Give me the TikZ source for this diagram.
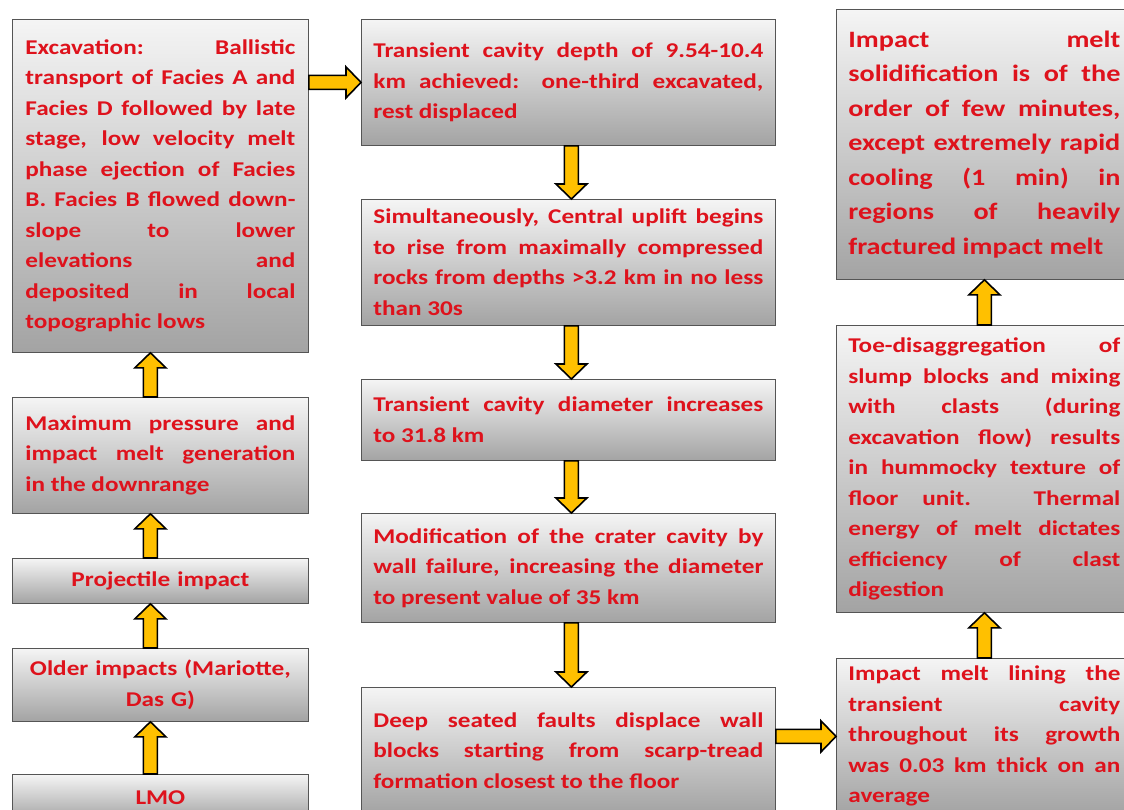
\documentclass[tikz,border=0pt]{standalone}
\usepackage{fontspec}
\setmainfont{Carlito}
\newfontfamily\normwide{Carlito}[FakeStretch=1.2]
\usetikzlibrary{calc}
\definecolor{txtred}{RGB}{222,18,28}
\definecolor{arrgold}{RGB}{255,192,0}
\definecolor{boxedge}{RGB}{85,85,85}
\tikzset{
  stage/.style={draw=boxedge,line width=0.8pt,top color=black!4,bottom color=black!36,
    anchor=north west,inner xsep=12pt,inner ysep=0pt,text=txtred,align=justify,
    font=\normwide\bfseries\fontsize{21}{30.5}\selectfont,
    execute at begin node={\tolerance=10000\hyphenpenalty=10000}},
  leftcol/.style={stage,text width=270pt,minimum width=296pt},
  midcol/.style={stage,text width=390pt,minimum width=413pt},
  rightcol/.style={stage,text width=272pt,minimum width=296pt},
  blockarrow/.style={draw=black,line width=1.6pt,fill=arrgold,line join=miter}
}
% block arrow from #1 (tail) to #2 (tip)
\newcommand\blockarr[2]{%
  \coordinate (h) at ($(#2)!15pt!(#1)$);
  \draw[blockarrow] ($(#1)!7pt!90:(#2)$) -- ($(h)!7pt!90:(#2)$) -- ($(h)!15.5pt!90:(#2)$) -- (#2)
    -- ($(h)!15.5pt!-90:(#2)$) -- ($(h)!7pt!-90:(#2)$) -- ($(#1)!7pt!-90:(#2)$) -- cycle;}
\begin{document}
\begin{tikzpicture}[x=1pt,y=-1pt]
\useasboundingbox (0,0) rectangle (1124,809);
\clip (0,0) rectangle (1124,809);
\fill[white] (0,0) rectangle (1124,809);
% left column
\node[leftcol,minimum height=333pt] (exc) at (12,19) {Excavation: Ballistic\linebreak transport of Facies A and\linebreak Facies D followed by late\linebreak stage, low velocity melt\linebreak phase ejection of Facies\linebreak B. Facies B flowed down-\linebreak slope to lower\linebreak elevations and\linebreak deposited in local\linebreak topographic lows};
\node[leftcol,minimum height=116pt] (maxp) at (12,397) {Maximum pressure and\linebreak impact melt generation\linebreak in the downrange};
\node[leftcol,minimum height=45pt,align=center] (proj) at (12,558) {Projectile impact};
\node[leftcol,minimum height=73pt,align=center] (older) at (12,648) {Older impacts (Mariotte,\\Das G)};
\node[leftcol,minimum height=46pt,align=center] (lmo) at (12,774) {LMO};
% middle column
\node[midcol,minimum height=126pt] (depth) at (361,19) {Transient cavity depth of 9.54-10.4\linebreak km achieved: one-third excavated,\linebreak rest displaced};
\node[midcol,minimum height=126pt] (uplift) at (361,199) {Simultaneously, Central uplift begins\linebreak to rise from maximally compressed\linebreak rocks from depths >3.2 km in no less\linebreak than 30s};
\node[midcol,minimum height=81pt] (diam) at (361,379) {Transient cavity diameter increases\linebreak to 31.8 km};
\node[midcol,minimum height=109pt] (modif) at (361,513) {Modification of the crater cavity by\linebreak wall failure, increasing the diameter\linebreak to present value of 35 km};
\node[midcol,minimum height=126pt] (deep) at (361,687) {Deep seated faults displace wall\linebreak blocks starting from scarp-tread\linebreak formation closest to the floor};
% right column
\node[rightcol,minimum height=270pt,font=\normwide\bfseries\fontsize{23.5}{34.5}\selectfont] (solid) at (836,9) {Impact melt\linebreak solidification is of the\linebreak order of few minutes,\linebreak except extremely rapid\linebreak cooling (1 min) in\linebreak regions of heavily\linebreak fractured impact melt};
\node[rightcol,minimum height=287pt] (toe) at (836,325) {Toe-disaggregation of\linebreak slump blocks and mixing\linebreak with clasts (during\linebreak excavation flow) results\linebreak in hummocky texture of\linebreak floor unit. Thermal\linebreak energy of melt dictates\linebreak efficiency of clast\linebreak digestion};
\node[rightcol,minimum height=156pt] (lining) at (836,658) {Impact melt lining the\linebreak transient cavity\linebreak throughout its growth\linebreak was 0.03 km thick on an\linebreak average};
% arrows
\blockarr{[xshift=-10pt]lmo.north}{[xshift=-10pt]older.south}
\blockarr{[xshift=-10pt]older.north}{[xshift=-10pt]proj.south}
\blockarr{[xshift=-10pt]proj.north}{[xshift=-10pt]maxp.south}
\blockarr{[xshift=-10pt]maxp.north}{[xshift=-10pt]exc.south}
\blockarr{exc.east |- depth.west}{depth.west}
\blockarr{[xshift=3pt]depth.south}{[xshift=3pt]uplift.north}
\blockarr{[xshift=3pt]uplift.south}{[xshift=3pt]diam.north}
\blockarr{[xshift=3pt]diam.south}{[xshift=3pt]modif.north}
\blockarr{[xshift=3pt]modif.south}{[xshift=3pt]deep.north}
\blockarr{deep.east |- lining.west}{lining.west}
\blockarr{lining.north}{toe.south}
\blockarr{toe.north}{solid.south}
\end{tikzpicture}
\end{document}
